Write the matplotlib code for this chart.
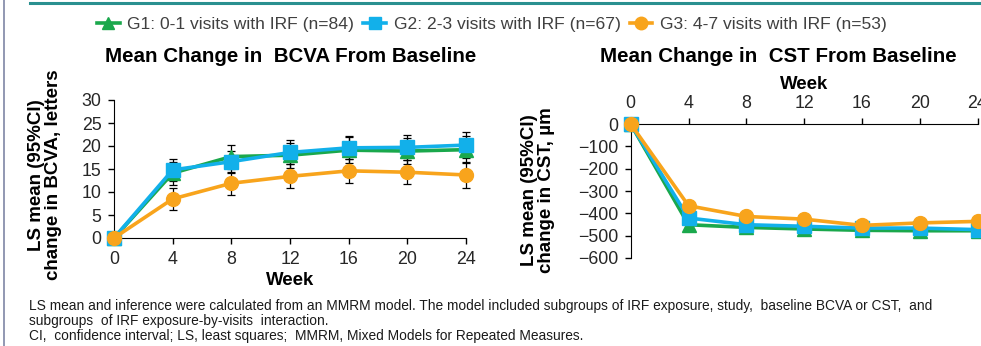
import matplotlib
matplotlib.use("Agg")
import matplotlib.pyplot as plt
from matplotlib.lines import Line2D

plt.rcParams["font.family"] = ["Liberation Sans", "DejaVu Sans"]

WEEKS = [0, 4, 8, 12, 16, 20, 24]
GROUPS = ["G1: 0-1 visits with IRF (n=84)",
          "G2: 2-3 visits with IRF (n=67)",
          "G3: 4-7 visits with IRF (n=53)"]
COLORS = ["#1aa84c", "#12b0ea", "#f8a41c"]
MARKERS = ["^", "s", "o"]

# LS mean change in BCVA (letters) and 95% CI half-widths
BCVA_G1 = [0.0, 14.1, 17.7, 18.0, 19.1, 18.9, 19.2]
BCVA_G2 = [0.0, 14.8, 16.6, 18.6, 19.6, 19.7, 20.2]
BCVA_G3 = [0.0, 8.5, 11.9, 13.4, 14.6, 14.3, 13.7]
BCVA_CI_G1 = [0.0, 2.5, 2.6, 2.7, 2.8, 2.8, 2.9]
BCVA_CI_G2 = [0.0, 2.3, 2.4, 2.6, 2.5, 2.7, 2.8]
BCVA_CI_G3 = [0.0, 2.4, 2.5, 2.6, 2.6, 2.6, 2.8]

# LS mean change in CST (um)
CST_G1 = [0, -451, -463, -470, -476, -478, -478]
CST_G2 = [0, -421, -451, -458, -466, -466, -473]
CST_G3 = [0, -366, -414, -426, -454, -443, -436]

FOOTNOTE = [
    "LS mean and inference were calculated from an MMRM model. The model included subgroups of IRF exposure, study,  baseline BCVA or CST,  and",
    "subgroups  of IRF exposure-by-visits  interaction.",
    "CI,  confidence interval; LS, least squares;  MMRM, Mixed Models for Repeated Measures.",
]

W, H = 981, 346
TXT = "#262626"


def box(x0, y0, x1, y1):
    # pixel box (top-left origin) -> figure fraction rect
    return [x0 / W, 1 - y1 / H, (x1 - x0) / W, (y1 - y0) / H]


def ylabel(x, y, text):
    fig.text(x / W, 1 - y / H, text, rotation=90, ha="center", va="center",
             fontsize=13.5, fontweight="bold", linespacing=1.05, multialignment="center")


fig = plt.figure(figsize=(W / 100, H / 100), dpi=100)

# slide decoration
fig.add_artist(Line2D([30 / W, 1], [1 - 2.5 / H] * 2, color="#2a9090", lw=2.2))
fig.add_artist(Line2D([3.5 / W] * 2, [0, 1], color="#7f86a6", lw=1.2))

# BCVA panel
ax1 = fig.add_axes(box(114, 100, 466, 238))
for vals, ci in zip((BCVA_G1, BCVA_G2, BCVA_G3), (BCVA_CI_G1, BCVA_CI_G2, BCVA_CI_G3)):
    ax1.errorbar(WEEKS, vals, yerr=ci, fmt="none", ecolor="black", elinewidth=0.9,
                 capsize=3.2, capthick=0.9, zorder=2, clip_on=False)
for vals, c, m in zip((BCVA_G1, BCVA_G2, BCVA_G3), COLORS, MARKERS):
    ax1.plot(WEEKS, vals, color=c, marker=m, lw=2.6, ms=10, mec=c, zorder=3, clip_on=False)
ax1.set_xlim(0, 24)
ax1.set_ylim(0, 30)
ax1.set_xticks(WEEKS)
ax1.set_yticks(range(0, 31, 5))
for s in ("top", "right"):
    ax1.spines[s].set_visible(False)
ax1.tick_params(labelsize=12.8, labelcolor=TXT, color="black", length=4, width=1, pad=5)
ax1.set_xlabel("Week", fontsize=13.4, fontweight="bold", labelpad=3)
ylabel(45, 175, "LS mean (95%CI)\nchange in BCVA, letters")
fig.text(291 / W, 1 - 56 / H, "Mean Change in  BCVA From Baseline", ha="center", va="center",
         fontsize=14.8, fontweight="bold")

# CST panel
ax2 = fig.add_axes(box(630.7, 124, 977.5, 258))
for vals, c, m in zip((CST_G1, CST_G2, CST_G3), COLORS, MARKERS):
    ax2.plot(WEEKS, vals, color=c, marker=m, lw=2.6, ms=10, mec=c, zorder=3, clip_on=False)
ax2.set_xlim(0, 24)
ax2.set_ylim(-600, 0)
ax2.set_xticks(WEEKS)
ax2.set_yticks(range(-600, 1, 100))
ax2.xaxis.tick_top()
ax2.xaxis.set_label_position("top")
for s in ("bottom", "right"):
    ax2.spines[s].set_visible(False)
ax2.tick_params(labelsize=12.8, labelcolor=TXT, color="black", length=4, width=1, pad=5)
ax2.set_xlabel("Week", fontsize=13.4, fontweight="bold", labelpad=4)
ylabel(538, 190, "LS mean (95%CI)\nchange in CST, \u00b5m")
fig.text(778 / W, 1 - 56 / H, "Mean Change in  CST From Baseline", ha="center", va="center",
         fontsize=14.8, fontweight="bold")

handles = [Line2D([], [], color=c, marker=m, lw=2.6, ms=9, mec=c) for c, m in zip(COLORS, MARKERS)]
fig.legend(handles, GROUPS, loc="center", bbox_to_anchor=(492 / W, 1 - 24 / H), ncol=3,
           frameon=False, fontsize=12.6, handlelength=1.3, handletextpad=0.45, columnspacing=0.5,
           labelcolor="#404040", borderaxespad=0, borderpad=0)

for i, line in enumerate(FOOTNOTE):
    fig.text(29 / W, 1 - (306 + 15 * i) / H, line, ha="left", va="center", fontsize=9.9,
             color="#1a1a1a")

fig.savefig("out.png", dpi=100)
